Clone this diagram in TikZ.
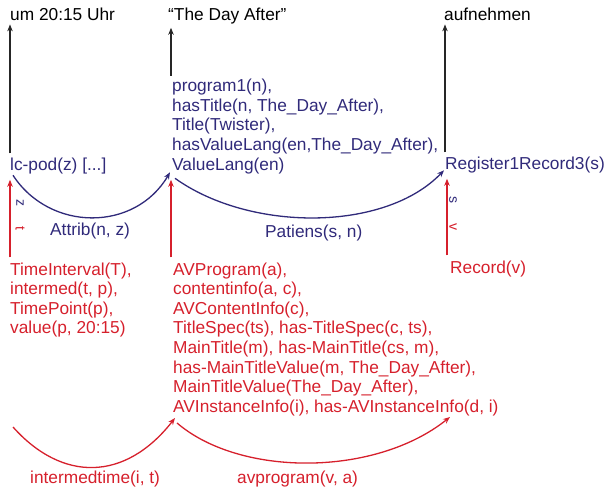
\documentclass[tikz,border=0pt]{standalone}
\usepackage{fontspec}
\setmainfont{Liberation Sans}
\usetikzlibrary{arrows.meta}

\definecolor{semblue}{RGB}{48,42,122}
\definecolor{semred}{RGB}{214,32,44}
\tikzset{
  lbl/.style={inner sep=0pt, anchor=base west, font=\fontsize{17.3}{19.6}\selectfont},
  sem/.style={lbl, text=semblue, align=left},
  syn/.style={lbl, text=semred, align=left},
  tag/.style={inner sep=0pt, rotate=-90, font=\fontsize{14}{14}\selectfont},
  up/.style={-{Stealth[length=7pt,width=5.5pt]}, line width=1.1pt, black!85},
  arc/.style={-{Stealth[length=7pt,width=5.5pt]}, line width=1.3pt},
}

\begin{document}
\begin{tikzpicture}[x=1pt, y=-1pt]
\useasboundingbox (0,0) rectangle (606,490);

% words on top
\node[lbl] (uhr) at (10,20) {um 20:15 Uhr};
\node[lbl] (title) at (168,20) {“The Day After”};
\node[lbl] (aufn) at (444,20) {aufnehmen};

% semantic layer (blue), base = last line
\node[sem] (lcpod) at (10,170) {lc-pod(z) [...]};
\node[sem] (prog) at (172,170) {program1(n),\\
  hasTitle(n, The\_Day\_After),\\
  Title(Twister),\\
  hasValueLang(en,The\_Day\_After),\\
  ValueLang(en)};
\node[sem] (reg) at (445,169) {Register1Record3(s)};
\node[sem] (attrib) at (50,235) {Attrib(n, z)};
\node[sem] (patiens) at (265,237) {Patiens(s, n)};

% syntactic layer (red)
\node[syn] (ti) at (10,333.8) {TimeInterval(T),\\
  intermed(t, p),\\
  TimePoint(p),\\
  value(p, 20:15)};
\node[syn] (avp) at (173,412.2) {AVProgram(a),\\
  contentinfo(a, c),\\
  AVContentInfo(c),\\
  TitleSpec(ts), has-TitleSpec(c, ts),\\
  MainTitle(m), has-MainTitle(cs, m),\\
  has-MainTitleValue(m, The\_Day\_After),\\
  MainTitleValue(The\_Day\_After),\\
  AVInstanceInfo(i), has-AVInstanceInfo(d, i)};
\node[syn] (rec) at (450,273) {Record(v)};
\node[syn] (imt) at (30,483) {intermedtime(i, t)};
\node[syn] (avprog) at (237,483) {avprogram(v, a)};
\coordinate (imtstart) at (13,427);

% variable tags
\node[tag, text=semblue] (zt) at (20,203) {z};
\node[tag, text=semred] (tt) at (20,228) {t};
\node[tag, text=semblue] (st) at (453,200) {s};
\node[tag, text=semred] (vt) at (453,227) {v};

% arrows up to the words
\draw[up] ([yshift=4pt]lcpod.north west) -- ([yshift=-4pt]uhr.south west);
\draw[up] ([xshift=-1pt,yshift=3pt]prog.north west) -- ([xshift=3pt,yshift=-4pt]title.south west);
\draw[up] ([yshift=4pt]reg.north west) -- ([xshift=1pt,yshift=-4pt]aufn.south west);

% red links up
\draw[arc, semred] ([yshift=5pt]ti.north west) -- ([yshift=-6pt]lcpod.south west);
\draw[arc, semred] ([xshift=-2pt,yshift=5pt]avp.north west) -- ([xshift=-1pt,yshift=-6pt]prog.south west);
\draw[arc, semred] ([xshift=-3pt,yshift=5pt]rec.north west) -- ([xshift=2pt,yshift=-6pt]reg.south west);

% blue relations
\draw[arc, semblue] ([xshift=3pt,yshift=-1.5pt]lcpod.south west)
  .. controls (50,232) and (135,232) .. ([xshift=-2pt,yshift=1.5pt]prog.south west);
\draw[arc, semblue] ([xshift=3pt,yshift=-4.5pt]prog.south west)
  .. controls (250,232) and (385,232) .. ([xshift=-1pt,yshift=2.5pt]reg.south west);

% red relations
\draw[arc, semred] (imtstart)
  .. controls (62,482) and (125,482) .. ([xshift=2pt,yshift=-2pt]avp.south west);
\draw[arc, semred] ([xshift=4pt,yshift=-7pt]avp.south west)
  .. controls (240,477) and (375,477) .. ([xshift=277pt,yshift=-1pt]avp.south west);

\end{tikzpicture}
\end{document}
